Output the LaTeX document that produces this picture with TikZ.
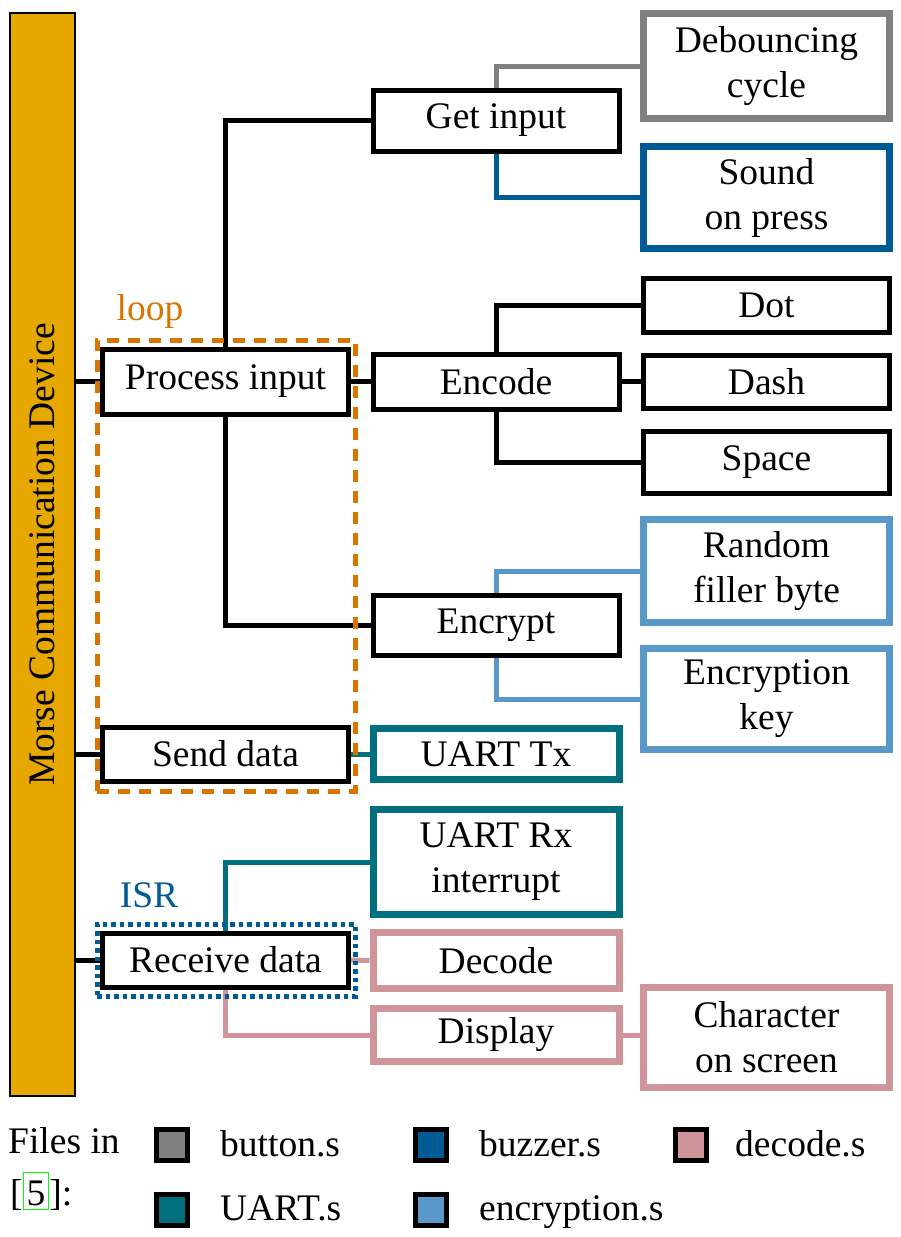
\documentclass[tikz,border=0pt]{standalone}
\usepackage{fontspec}
\setmainfont{Liberation Serif}
\usetikzlibrary{backgrounds}
\definecolor{cgray}{HTML}{808080}
\definecolor{cbuzz}{HTML}{005B94}
\definecolor{cteal}{HTML}{00707F}
\definecolor{clblue}{HTML}{5899C9}
\definecolor{cpink}{HTML}{D0959B}
\definecolor{corange}{HTML}{D67500}
\definecolor{cbar}{HTML}{E6A800}
\newcommand\citebox[1]{{\setlength{\fboxsep}{0pt}\setlength{\fboxrule}{1pt}\textcolor{green}{\fbox{\textcolor{black}{\rule[-4pt]{0pt}{36pt}\hspace{3pt}#1\hspace{3pt}}}}}}
\begin{document}
\begin{tikzpicture}[x=1pt,y=-1pt,
  font=\fontsize{37.5}{45}\selectfont,
  every node/.style={align=center, inner sep=0pt},
  blk/.style={draw=black, line width=5pt, minimum width=246pt},
  colbox/.style={draw=#1, line width=7pt, minimum width=246pt},
  conn/.style={line width=5pt},
  leg/.style={draw=black, line width=5pt, fill=#1, minimum size=31pt}]
\useasboundingbox (0,0) rectangle (901,1237);

% bar
\node[draw=black, line width=2.5pt, fill=cbar, minimum width=65pt, minimum height=1083pt] (bar) at (42.5,554.5) {};
\node[rotate=90] (bartext) at (bar.center) {Morse Communication Device};

% left column
\node[blk, minimum height=65pt] (proc) at (225.5,381.5) {Process input};
\node[blk, minimum height=54pt] (send) at (225.5,754) {Send data};
\node[blk, minimum height=54pt] (recv) at (225.5,960) {Receive data};

% middle column
\node[blk, minimum height=61pt] (getin) at (496,120.5) {Get input};
\node[blk, minimum height=55pt] (enc) at (496,381.5) {Encode};
\node[blk, minimum height=60pt] (encr) at (496,625) {Encrypt};
\node[colbox=cteal, minimum height=51pt] (tx) at (496,754) {UART Tx};
\node[colbox=cteal, minimum height=105pt] (rx) at (496,862) {UART Rx\\interrupt};
\node[colbox=cpink, minimum height=56pt] (dec) at (496,960.5) {Decode};
\node[colbox=cpink, minimum height=53pt] (disp) at (496,1035) {Display};

% right column
\node[colbox=cgray, minimum height=105pt] (deb) at (766.5,66) {Debouncing\\cycle};
\node[colbox=cbuzz, minimum height=102pt] (snd) at (766.5,197.5) {Sound\\on press};
\node[blk, minimum height=54pt] (dot) at (766.5,305) {Dot};
\node[blk, minimum height=53pt] (dash) at (766.5,381.5) {Dash};
\node[blk, minimum height=62pt] (space) at (766.5,462) {Space};
\node[colbox=clblue, minimum height=103pt] (rnd) at (766.5,571) {Random\\filler byte};
\node[colbox=clblue, minimum height=101pt] (key) at (766.5,699) {Encryption\\key};
\node[colbox=cpink, minimum height=100pt] (chr) at (766.5,1037) {Character\\on screen};

% groups
\node[draw=corange, line width=5pt, dash pattern=on 12pt off 9pt, minimum width=258pt, minimum height=451pt] (loopbox) at (226,565.5) {};
\node[text=corange, anchor=base] (looplbl) at (150,320) {loop};
\node[draw=cbuzz, line width=5pt, dash pattern=on 4.5pt off 4pt, minimum width=258pt, minimum height=72pt] (isrbox) at (226,960) {};
\node[text=cbuzz, anchor=base] (isrlbl) at (149,907) {ISR};

% connectors
\begin{scope}[on background layer]
\draw[conn] (bar.east |- proc.west) -- (proc.west);
\draw[conn] (bar.east |- send.west) -- (send.west);
\draw[conn] (bar.east |- recv.west) -- (recv.west);
\draw[conn] (proc.north) |- (getin.west);
\draw[conn] (proc.south) |- (encr.west);
\draw[conn] (proc.east) -- (enc.west);
\draw[conn, cgray] (getin.north) |- (deb.west);
\draw[conn, cbuzz] (getin.south) |- (snd.west);
\draw[conn] (enc.north) |- (dot.west);
\draw[conn] (enc.east) -- (dash.west);
\draw[conn] (enc.south) |- (space.west);
\draw[conn, clblue] (encr.north) |- (rnd.west);
\draw[conn, clblue] (encr.south) |- (key.west);
\draw[conn, cteal] (send.east) -- (tx.west);
\draw[conn, cteal] (recv.north) |- (rx.west);
\draw[conn, cpink] (recv.east) -- (dec.west);
\draw[conn, cpink] (recv.south) |- (disp.west);
\draw[conn, cpink] (disp.east) -- (disp.east -| chr.west);
\end{scope}

% legend
\node[anchor=base west] (files) at (8,1153) {Files in};
\node[anchor=base west] (cite) at (10,1205) {[\citebox{5}]:};
\node[leg=cgray] (lg1) at (172,1145) {};
\node[anchor=base west] (lt1) at (220,1156) {button.s};
\node[leg=cbuzz] (lg2) at (431,1145) {};
\node[anchor=base west] (lt2) at (479,1156) {buzzer.s};
\node[leg=cpink] (lg3) at (690.5,1145) {};
\node[anchor=base west] (lt3) at (735,1156) {decode.s};
\node[leg=cteal] (lg4) at (172,1210) {};
\node[anchor=base west] (lt4) at (220,1220) {UART.s};
\node[leg=clblue] (lg5) at (431,1210) {};
\node[anchor=base west] (lt5) at (479,1220) {encryption.s};
\end{tikzpicture}
\end{document}
